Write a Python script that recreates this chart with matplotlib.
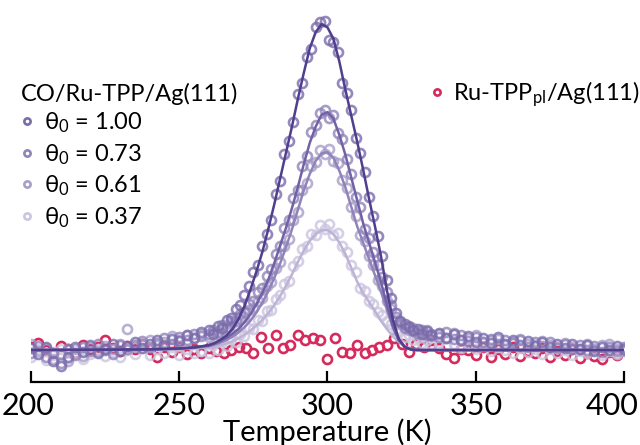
import matplotlib
matplotlib.use("Agg")
import matplotlib.pyplot as plt
import matplotlib.transforms as mtransforms
from matplotlib.lines import Line2D

plt.rcParams["font.family"] = ["Lato", "DejaVu Sans"]
plt.rcParams["mathtext.fontset"] = "custom"
plt.rcParams["mathtext.rm"] = "Lato"
plt.rcParams["mathtext.it"] = "Lato:italic"

# temperatures of the measured points (K), shared by the four CO coverages
T_DATA = [200, 202.5, 205, 207.5, 210, 212.5, 215, 217.5, 220, 222.5, 225, 227.5,
          230, 232.5, 235, 237.5, 240, 242.5, 245, 247.5, 250, 252.5, 255, 257.5,
          260, 261.5, 263, 264.5, 266, 267.5, 269, 270.5, 272, 273.5, 275, 276.5,
          278, 279.5, 281, 282.5, 284, 285.5, 287, 288.5, 290, 291.5, 293, 294.5,
          296, 297.5, 299, 300.5, 302, 303.5, 305, 306.5, 308, 309.5, 311, 312.5,
          314, 315.5, 317, 318.5, 320, 321.5, 323, 324.5, 326, 327.5, 329, 330.5,
          332, 333.5, 335,
          337.5, 340, 342.5, 345, 347.5, 350, 352.5, 355, 357.5, 360, 362.5, 365,
          367.5, 370, 372.5, 375, 377.5, 380, 382.5, 385, 387.5, 390, 392.5, 395,
          397.5, 400]

D_100 = [0.005, -0.012, 0.010, -0.035, -0.048, -0.020, 0.008, -0.006, 0.015, -0.010, 0.004, 0.018,
         -0.004, 0.012, 0.025, 0.006, 0.020, 0.030, 0.015, 0.035, 0.028, 0.045, 0.038, 0.055,
         0.062, 0.050, 0.075, 0.068, 0.092, 0.098, 0.125, 0.138, 0.170, 0.195, 0.238, 0.262,
         0.318, 0.355, 0.400, 0.478, 0.520, 0.600, 0.640, 0.700, 0.785, 0.818, 0.900, 0.925,
         0.990, 1.005, 1.010, 0.950, 0.945, 0.915, 0.820, 0.790, 0.735, 0.650, 0.605, 0.545,
         0.470, 0.410, 0.350, 0.290, 0.215, 0.160, 0.115, 0.090, 0.080, 0.072, 0.060, 0.065,
         0.050, 0.058, 0.045,
         0.052, 0.038, 0.048, 0.030, 0.042, 0.025, 0.036, 0.022, 0.040, 0.018, 0.030, 0.015,
         0.028, 0.012, 0.025, 0.008, 0.020, 0.005, 0.018, 0.002, 0.015, -0.004, 0.010, 0.000,
         0.012, 0.003]

D_073 = [-0.010, 0.012, -0.022, -0.008, -0.040, 0.004, -0.015, 0.010, -0.002, 0.020, 0.000, -0.012,
         0.014, 0.002, 0.016, 0.028, 0.008, 0.022, 0.036, 0.020, 0.040, 0.032, 0.050, 0.042,
         0.048, 0.062, 0.055, 0.078, 0.072, 0.090, 0.088, 0.112, 0.118, 0.140, 0.150, 0.178,
         0.190, 0.228, 0.250, 0.295, 0.318, 0.375, 0.398, 0.468, 0.492, 0.565, 0.595, 0.668,
         0.690, 0.728, 0.735, 0.712, 0.720, 0.665, 0.648, 0.585, 0.540, 0.470, 0.438, 0.372,
         0.345, 0.300, 0.262, 0.225, 0.178, 0.138, 0.102, 0.085, 0.068, 0.075, 0.058, 0.052,
         0.062, 0.045, 0.050,
         0.040, 0.055, 0.035, 0.046, 0.028, 0.040, 0.024, 0.035, 0.020, 0.032, 0.022, 0.030,
         0.010, 0.024, 0.012, 0.026, 0.006, 0.018, 0.004, 0.014, 0.000, 0.012, -0.006, 0.008,
         -0.002, 0.010]

D_061 = [0.018, -0.004, 0.006, -0.026, -0.012, -0.034, 0.002, -0.018, 0.008, -0.004, 0.012, 0.002,
         0.020, 0.064, 0.010, 0.018, 0.032, 0.014, 0.026, 0.042, 0.030, 0.046, 0.036, 0.050,
         0.040, 0.056, 0.048, 0.066, 0.060, 0.080, 0.075, 0.095, 0.100, 0.122, 0.128, 0.150,
         0.160, 0.195, 0.210, 0.252, 0.270, 0.318, 0.340, 0.400, 0.425, 0.490, 0.512, 0.565,
         0.578, 0.615, 0.600, 0.618, 0.580, 0.575, 0.522, 0.498, 0.438, 0.410, 0.352, 0.335,
         0.288, 0.262, 0.215, 0.195, 0.152, 0.125, 0.092, 0.080, 0.070, 0.062, 0.068, 0.048,
         0.055, 0.060, 0.042,
         0.048, 0.036, 0.052, 0.032, 0.038, 0.045, 0.026, 0.030, 0.034, 0.016, 0.026, 0.034,
         0.018, 0.014, 0.028, 0.016, 0.010, 0.022, 0.008, 0.004, 0.018, 0.002, 0.014, 0.020,
         0.004, -0.004]

D_037 = [-0.020, 0.004, -0.030, -0.014, 0.002, -0.024, -0.008, -0.026, -0.012, 0.004, -0.018, -0.006,
         -0.020, 0.000, -0.012, 0.006, -0.014, 0.002, -0.008, 0.010, -0.016, 0.004, -0.010, -0.002,
         -0.010, 0.014, 0.000, 0.024, 0.012, 0.034, 0.026, 0.048, 0.044, 0.068, 0.064, 0.092,
         0.090, 0.120, 0.122, 0.158, 0.168, 0.204, 0.212, 0.258, 0.272, 0.310, 0.318, 0.355,
         0.352, 0.385, 0.372, 0.388, 0.352, 0.360, 0.318, 0.300, 0.262, 0.238, 0.190, 0.182,
         0.152, 0.140, 0.118, 0.108, 0.088, 0.080, 0.060, 0.058, 0.040, 0.046, 0.030, 0.036,
         0.022, 0.030, 0.018,
         0.024, 0.012, 0.020, 0.006, 0.016, 0.002, 0.012, -0.004, 0.008, 0.000, -0.008, 0.006,
         -0.006, 0.002, -0.012, 0.004, -0.008, 0.000, -0.014, -0.002, -0.010, 0.004, -0.016, -0.004,
         -0.012, 0.002]

# Ru-TPP_pl/Ag(111) reference, no CO
T_RED = [200, 202.5, 205, 207.5, 210, 212.5, 215, 217.5, 220, 222.5, 225, 227.5,
         230, 232.5, 235, 237.5, 240, 242.5, 245, 247.5, 250, 252.5, 255, 257.5,
         260, 262.5, 265, 267.5, 270, 272.5, 275, 277.5, 280, 282.5, 285, 287.5,
         290, 292.5, 295, 297.5, 300, 302.5, 305, 307.5, 310, 312.5, 315, 317.5,
         320, 322.5, 325, 327.5, 330, 332.5, 335, 337.5, 340, 342.5, 345, 347.5,
         350, 352.5, 355, 357.5, 360, 362.5, 365, 367.5, 370, 372.5, 375, 377.5,
         380, 382.5, 385, 387.5, 390, 392.5, 395, 397.5, 400]
D_RED = [0.010, 0.022, 0.000, -0.008, 0.012, 0.004, -0.010, 0.016, 0.002, 0.010, 0.030, 0.006,
         -0.004, 0.012, 0.002, 0.020, 0.004, -0.020, 0.008, -0.006, 0.010, -0.012, 0.004, -0.008,
         0.006, -0.004, -0.010, 0.000, 0.008, 0.006, -0.009, 0.040, 0.006, 0.046, 0.006, 0.015,
         0.046, 0.030, 0.037, 0.030, -0.028, 0.037, -0.006, -0.009, 0.015, -0.009, 0.000, 0.009,
         0.015, 0.037, 0.020, -0.006, 0.020, 0.009, 0.030, 0.006, -0.012, -0.025, 0.004, 0.000,
         -0.015, 0.010, -0.020, 0.002, -0.012, 0.008, -0.018, -0.004, -0.010, 0.006, -0.022, -0.004,
         -0.016, 0.004, -0.024, -0.008, -0.018, -0.026, -0.006, -0.014, 0.000]

# fitted desorption curves
T_FIT = [200, 240, 250, 255, 260, 262, 264, 266, 268, 270, 272, 274, 276, 278, 280,
         282, 284, 286, 288, 290, 292, 294, 296, 298, 300, 302, 304, 306, 308, 310,
         312, 314, 316, 318, 320, 322, 324, 326, 328, 330, 332, 340, 400]
F_100 = [0, 0.002, 0.005, 0.008, 0.015, 0.022, 0.032, 0.045, 0.065, 0.095, 0.135, 0.185,
         0.24, 0.30, 0.37, 0.445, 0.525, 0.605, 0.685, 0.77, 0.85, 0.925, 0.975, 1.0,
         0.99, 0.955, 0.885, 0.80, 0.72, 0.64, 0.555, 0.465, 0.38, 0.29, 0.185, 0.095,
         0.035, 0.01, 0.002, 0, 0, 0, 0]
F_073 = [0, 0.002, 0.004, 0.008, 0.014, 0.02, 0.028, 0.038, 0.05, 0.065, 0.085, 0.11,
         0.14, 0.175, 0.215, 0.265, 0.32, 0.375, 0.435, 0.50, 0.57, 0.635, 0.685, 0.722,
         0.73, 0.71, 0.66, 0.60, 0.53, 0.46, 0.39, 0.33, 0.27, 0.21, 0.14, 0.075,
         0.03, 0.01, 0.002, 0, 0, 0, 0]
F_061 = [0, 0.002, 0.004, 0.007, 0.012, 0.017, 0.023, 0.031, 0.041, 0.054, 0.07, 0.09,
         0.115, 0.145, 0.18, 0.22, 0.265, 0.315, 0.37, 0.43, 0.49, 0.54, 0.58, 0.603,
         0.607, 0.59, 0.55, 0.50, 0.44, 0.38, 0.33, 0.28, 0.23, 0.18, 0.125, 0.07,
         0.03, 0.01, 0.002, 0, 0, 0, 0]
F_037 = [0, 0.001, 0.003, 0.005, 0.008, 0.011, 0.015, 0.02, 0.027, 0.036, 0.047, 0.06,
         0.075, 0.092, 0.113, 0.137, 0.165, 0.197, 0.232, 0.27, 0.305, 0.335, 0.356, 0.367,
         0.368, 0.355, 0.33, 0.295, 0.253, 0.21, 0.175, 0.148, 0.12, 0.09, 0.065, 0.042,
         0.025, 0.012, 0.004, 0.001, 0, 0, 0]

SERIES = [
    # label, data, fit, marker colour, line colour
    ("1.00", D_100, F_100, "#7a6cab", "#4f3f8d"),
    ("0.73", D_073, F_073, "#9084bb", "#7262a5"),
    ("0.61", D_061, F_061, "#a89ec9", "#8f83ba"),
    ("0.37", D_037, F_037, "#cbc5e0", "#bcb3d6"),
]
RED = "#d42a5c"

fig = plt.figure(figsize=(6.4, 4.45), dpi=100)
ax = fig.add_axes([0.0484, 0.1416, 0.9266, 0.8584])

ax.plot(T_RED, D_RED, "o", ms=6.5, mfc="none", mec=RED, mew=1.9, zorder=1)
for i, (lab, d, f, mc, lc) in enumerate(SERIES[::-1]):
    ax.plot(T_DATA, d, "o", ms=6.5, mfc="none", mec=mc, mew=1.9, alpha=0.8,
            zorder=2 + i)
for i, (lab, d, f, mc, lc) in enumerate(SERIES[::-1]):
    ax.plot(T_FIT, f, "-", color=lc, lw=1.8, zorder=10 + i)

ax.set_xlim(200, 400)
ax.set_ylim(-0.098, 1.074)
for s in ("left", "right", "top"):
    ax.spines[s].set_visible(False)
ax.spines["bottom"].set_linewidth(1.6)
ax.set_yticks([])
ax.set_xticks([200, 250, 300, 350, 400])
ax.tick_params(axis="x", direction="in", length=8, width=1.6, labelsize=22, pad=7)
ax.patch.set_alpha(0)

xl = ax.set_xlabel("Temperature (K)", fontsize=21)
xl.set_va("baseline")
ax.xaxis.set_label_coords(0.5, (382 - 441) / 382)

# end tick labels are pulled in to stay on the canvas
tl = ax.get_xticklabels()
tl[-1].set_transform(tl[-1].get_transform() +
                     mtransforms.ScaledTranslation(-0.12, 0, fig.dpi_scale_trans))
tl[0].set_transform(tl[0].get_transform() +
                    mtransforms.ScaledTranslation(-0.03, 0, fig.dpi_scale_trans))

fig.text(0.033, 1 - 101 / 445, "CO/Ru-TPP/Ag(111)", fontsize=17, va="baseline")

handles = [Line2D([], [], ls="none", marker="o", ms=4.5, mfc="none", mec=mc, mew=1.9)
           for _, _, _, mc, _ in SERIES]
labels = ["θ$_0$ = " + lab for lab, *_ in SERIES]
fig.legend(handles, labels, loc="upper left", bbox_to_anchor=(0.0275, 0.7515),
           frameon=False, fontsize=17, handlelength=0.8, handletextpad=0.3,
           labelspacing=0.29, borderpad=0, borderaxespad=0)

red_h = [Line2D([], [], ls="none", marker="o", ms=4.5, mfc="none", mec=RED, mew=1.9)]
fig.legend(red_h, ["Ru-TPP$_{\\mathrm{pl}}$/Ag(111)"], loc="upper right",
           bbox_to_anchor=(1.0, 0.823), frameon=False, fontsize=17,
           handlelength=0.6, handletextpad=0.4, borderpad=0, borderaxespad=0)

fig.savefig("out.png", dpi=100)
